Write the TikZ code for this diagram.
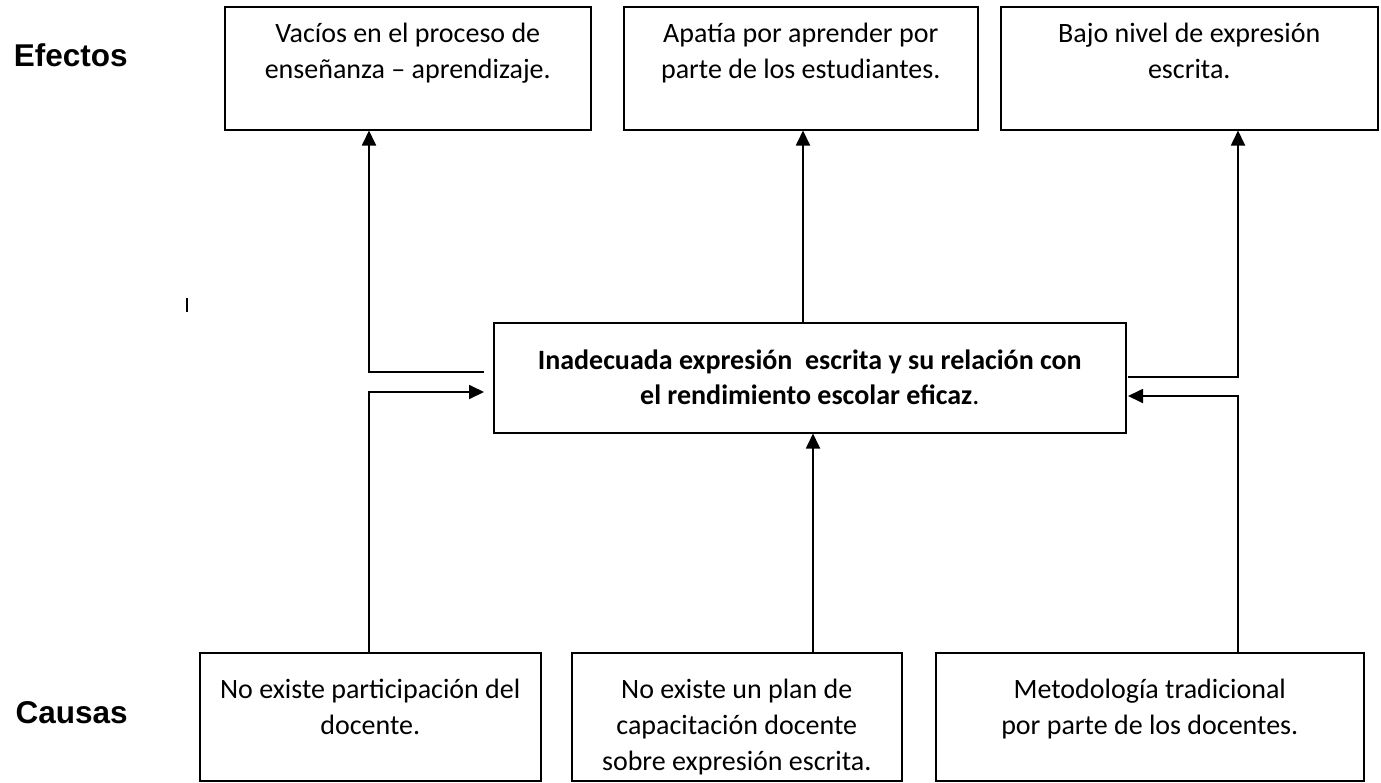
\documentclass[tikz,border=0pt]{standalone}
\usepackage{fontspec}
\setmainfont{Carlito}
\newfontfamily\arialfont{Liberation Sans}
\usetikzlibrary{arrows.meta}
\newcommand{\textocaja}[4]{\parbox[c][#2][t]{#1}{\centering\vspace*{#3}\strut #4}}

\begin{document}
\begin{tikzpicture}[x=0.5pt,y=-0.5pt,
	every node/.style={inner sep=0pt},
	caja/.style={draw,line width=0.75pt,anchor=north west,font=\fontsize{14}{18}\selectfont},
	rotulo/.style={anchor=base east,font=\arialfont\bfseries\fontsize{15.75}{18}\selectfont},
	flecha/.style={line width=0.9pt,-{Triangle[length=7.5pt,width=7pt]}}]
	\useasboundingbox (0,0) rectangle (1381,782);
	\node [rotulo] (efectos) at (128,66) {Efectos};
	\node [rotulo] (causas) at (128,723) {Causas};
	\node [caja] (e1) at (224,6) {\textocaja{183pt}{61.5pt}{5.4pt}{Vacíos en el proceso de\\enseñanza – aprendizaje.}};
	\node [caja] (e2) at (623,6) {\textocaja{177pt}{61.5pt}{5.4pt}{Apatía por aprender por\\parte de los estudiantes.}};
	\node [caja] (e3) at (1000,6) {\textocaja{188.5pt}{61.5pt}{5.4pt}{Bajo nivel de expresión\\escrita.}};
	\node [caja] (problema) at (493,322) {\parbox[c][55pt][c]{316pt}{\centering\fontsize{14}{17.5}\selectfont\textbf{Inadecuada expresión~ escrita y su relación con}\\\textbf{el rendimiento escolar eficaz}.}};
	\node [caja] (c1) at (199,652) {\textocaja{170.5pt}{64pt}{10.4pt}{No existe participación del\\docente.}};
	\node [caja] (c2) at (571,652) {\textocaja{165pt}{64pt}{10.4pt}{No existe un plan de\\capacitación docente\\sobre expresión escrita.}};
	\node [caja] (c3) at (935,652) {\textocaja{214pt}{64pt}{10.4pt}{Metodología tradicional\\por parte de los docentes.}};
	\coordinate (xl) at (369,0);
	\coordinate (xm) at (803,0);
	\coordinate (xb) at (813,0);
	\coordinate (xr) at (1238,0);
	\coordinate (efL) at (484,372);
	\coordinate (caL) at (484,392);
	\coordinate (efR) at (1128,377);
	\coordinate (caR) at (1128,396);
	\draw [flecha] (efL) -| (xl |- e1.south);
	\draw [flecha] (xl |- c1.north) |- (caL);
	\draw [flecha] (xm |- problema.north) -- (xm |- e2.south);
	\draw [flecha] (xb |- c2.north) -- (xb |- problema.south);
	\draw [flecha] (efR) -| (xr |- e3.south);
	\draw [flecha] (xr |- c3.north) |- (caR);
	\draw [line width=1pt] (187,298) -- (187,312);
\end{tikzpicture}
\end{document}
